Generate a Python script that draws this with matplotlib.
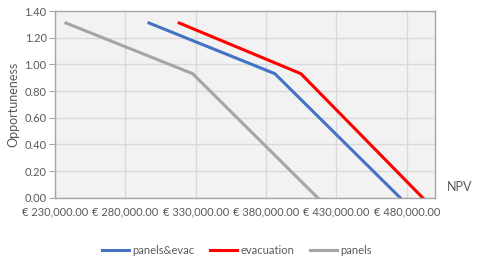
import numpy as np
from matplotlib import pyplot as plt

plt.rcParams['font.family'] = ['Lato', 'DejaVu Sans']

# NPV (x) vs opportuneness (y)
panels_evac_npv = [296800, 386200, 475200]
panels_evac_opp = [1.31, 0.93, 0.00]
evacuation_npv = [318300, 404700, 491200]
evacuation_opp = [1.31, 0.93, 0.00]
panels_npv = [237800, 327800, 416600]
panels_opp = [1.31, 0.93, 0.00]

x_ticks = [230000, 280000, 330000, 380000, 430000, 480000]
y_ticks = [0.0, 0.2, 0.4, 0.6, 0.8, 1.0, 1.2, 1.4]

txt = '#595959'

fig = plt.figure(figsize=(4.8, 2.62), dpi=100)
ax = fig.add_axes([55/480, 1-197.7/262, 380/480, 186.7/262])
ax.set_facecolor('#f2f2f2')

ax.plot(panels_evac_npv, panels_evac_opp, color='#4472c4', lw=2.2, label='panels&evac')
ax.plot(evacuation_npv, evacuation_opp, color='#ff0000', lw=2.2, label='evacuation')
ax.plot(panels_npv, panels_opp, color='#a5a5a5', lw=2.2, label='panels')

ax.set_xlim(230000, 500000)
ax.set_ylim(0, 1.4)
ax.set_xticks(x_ticks)
ax.set_xticklabels(['\u20ac {:,.2f}'.format(v) for v in x_ticks])
ax.set_yticks(y_ticks)
ax.set_yticklabels(['{:.2f}'.format(v) for v in y_ticks])
ax.grid(color='#d9d9d9', lw=1)
ax.set_axisbelow(True)
ax.tick_params(axis='x', length=0, labelsize=8, colors=txt, pad=6)
ax.tick_params(axis='y', length=4, width=0.8, color='#a6a6a6', labelsize=8, colors=txt, pad=2)
for s in ax.spines.values():
    s.set_color('#a6a6a6')
    s.set_linewidth(1)

ax.set_ylabel('Opportuneness', fontsize=9, color=txt, labelpad=4)
fig.text(460/480, 1-187/262, 'NPV', fontsize=9, color=txt, ha='center', va='center')

fig.legend(loc='center', bbox_to_anchor=(237/480, 1-250/262), ncol=3, frameon=False,
           fontsize=8, labelcolor=txt, handlelength=2.4, columnspacing=1.4, handletextpad=0.35)

fig.savefig('out.png', dpi=100)
